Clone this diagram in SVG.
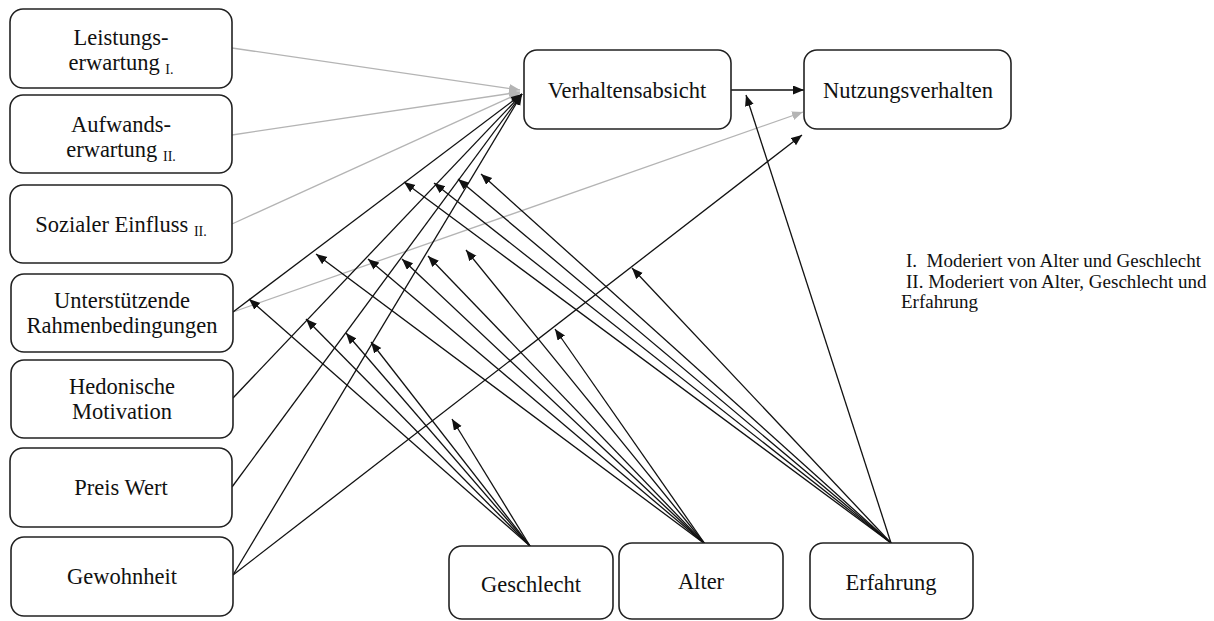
<svg xmlns="http://www.w3.org/2000/svg" width="1214" height="621" viewBox="0 0 1214 621">
<defs>
<style>
.box{fill:#fff;stroke:#222;stroke-width:1.6}
.k{stroke:#111;stroke-width:1.3;fill:none;marker-end:url(#ah)}
.g{stroke:#b4b4b4;stroke-width:1.3;fill:none;marker-end:url(#ahg)}
.pre{white-space:pre}
</style>
<marker id="ah" markerWidth="12" markerHeight="10" refX="11" refY="4.5" orient="auto" markerUnits="userSpaceOnUse"><path d="M0,0 L11,4.5 L0,9 z" fill="#111"/></marker>
<marker id="ahg" markerWidth="12" markerHeight="10" refX="11" refY="4.5" orient="auto" markerUnits="userSpaceOnUse"><path d="M0,0 L11,4.5 L0,9 z" fill="#b4b4b4"/></marker>
</defs>
<rect width="1214" height="621" fill="#fff"/>
<g id="connectors">
<line class="g" x1="232" y1="48" x2="520" y2="90"/>
<line class="g" x1="232" y1="135" x2="520" y2="92"/>
<line class="g" x1="232" y1="224" x2="520" y2="93"/>
<line class="g" x1="233" y1="312" x2="803" y2="112"/>
<line class="k" x1="233" y1="312" x2="522" y2="94"/>
<line class="k" x1="233" y1="398" x2="522" y2="94"/>
<line class="k" x1="232" y1="487" x2="522" y2="94"/>
<line class="k" x1="233" y1="575" x2="522" y2="94"/>
<line class="k" x1="233" y1="575" x2="802" y2="135"/>
<line class="k" x1="731" y1="90" x2="804" y2="90"/>
<line class="k" x1="891" y1="543" x2="404" y2="182"/>
<line class="k" x1="891" y1="543" x2="434" y2="183"/>
<line class="k" x1="891" y1="543" x2="458" y2="179"/>
<line class="k" x1="891" y1="543" x2="481" y2="174"/>
<line class="k" x1="891" y1="543" x2="632" y2="268"/>
<line class="k" x1="891" y1="543" x2="746" y2="95"/>
<line class="k" x1="705" y1="544" x2="316" y2="254"/>
<line class="k" x1="705" y1="544" x2="368" y2="259"/>
<line class="k" x1="705" y1="544" x2="402" y2="259"/>
<line class="k" x1="705" y1="544" x2="428" y2="256"/>
<line class="k" x1="705" y1="544" x2="466" y2="250"/>
<line class="k" x1="705" y1="544" x2="555" y2="329"/>
<line class="k" x1="530" y1="546" x2="249" y2="299"/>
<line class="k" x1="530" y1="546" x2="306" y2="319"/>
<line class="k" x1="530" y1="546" x2="346" y2="333"/>
<line class="k" x1="530" y1="546" x2="371" y2="342"/>
<line class="k" x1="530" y1="546" x2="452" y2="419"/>
</g>
<g font-family="Liberation Serif, Times New Roman, serif" font-size="22.5" fill="#111" text-anchor="middle">
<g id="leistungserwartung"><rect class="box" x="10" y="9" width="222" height="79" rx="13"/><text x="121" y="45">Leistungs-</text><text x="121" y="70">erwartung <tspan font-size="14" dy="4">I.</tspan></text></g>
<g id="aufwandserwartung"><rect class="box" x="10" y="95" width="222" height="78" rx="13"/><text x="121" y="132">Aufwands-</text><text x="121" y="157">erwartung <tspan font-size="14" dy="4">II.</tspan></text></g>
<g id="sozialer-einfluss"><rect class="box" x="10" y="185" width="222" height="78" rx="13"/><text x="121" y="232">Sozialer Einfluss <tspan font-size="14" dy="4">II.</tspan></text></g>
<g id="rahmenbedingungen"><rect class="box" x="11" y="274" width="222" height="78" rx="13"/><text x="122" y="308">Unterstützende</text><text x="122" y="333">Rahmenbedingungen</text></g>
<g id="hedonische-motivation"><rect class="box" x="11" y="360" width="222" height="78" rx="13"/><text x="122" y="394">Hedonische</text><text x="122" y="419">Motivation</text></g>
<g id="preis-wert"><rect class="box" x="10" y="448" width="222" height="79" rx="13"/><text x="121" y="495">Preis Wert</text></g>
<g id="gewohnheit"><rect class="box" x="11" y="537" width="222" height="79" rx="13"/><text x="122" y="584">Gewohnheit</text></g>
<g id="verhaltensabsicht"><rect class="box" x="524" y="50" width="207" height="79" rx="13"/><text x="627" y="98">Verhaltensabsicht</text></g>
<g id="nutzungsverhalten"><rect class="box" x="804" y="50" width="207" height="79" rx="13"/><text x="908" y="98">Nutzungsverhalten</text></g>
<g id="geschlecht"><rect class="box" x="449" y="546" width="164" height="73" rx="13"/><text x="531" y="592">Geschlecht</text></g>
<g id="alter"><rect class="box" x="619" y="543" width="164" height="76" rx="13"/><text x="701" y="589">Alter</text></g>
<g id="erfahrung"><rect class="box" x="810" y="543" width="163" height="76" rx="13"/><text x="891" y="590">Erfahrung</text></g>
</g>
<g id="legende" font-family="Liberation Serif, Times New Roman, serif" font-size="19" fill="#111">
<text class="pre" x="906" y="267">I.  Moderiert von Alter und Geschlecht</text>
<text class="pre" x="906" y="288">II. Moderiert von Alter, Geschlecht und</text>
<text x="901" y="308">Erfahrung</text>
</g>
</svg>
